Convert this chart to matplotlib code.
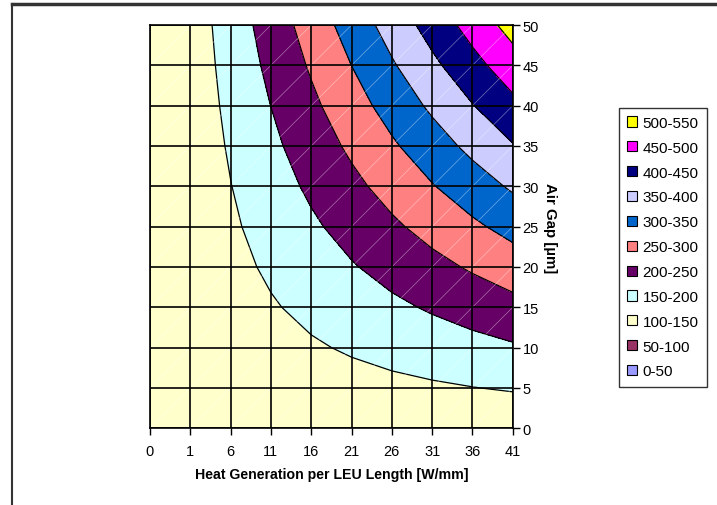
import numpy as np
import matplotlib
matplotlib.use("Agg")
import matplotlib.pyplot as plt
from matplotlib.patches import Patch
from matplotlib.lines import Line2D

plt.rcParams['font.family'] = ['Liberation Sans', 'DejaVu Sans']

# x categories (heat generation per LEU length, W/mm) and y values (air gap, um)
heat = [0, 1, 6, 11, 16, 21, 26, 31, 36, 41]
gap = [0, 5, 10, 15, 20, 25, 30, 35, 40, 45, 50]

# surface values, one row per air gap
temp = [
    [113.4, 113.4, 113.4, 113.4, 113.4, 113.4, 113.4, 113.4, 113.4, 113.4],
    [113.4, 114.4, 119.3, 124.3, 129.2, 134.2, 139.1, 144.0, 149.0, 153.9],
    [113.4, 115.4, 125.3, 135.1, 145.0, 154.9, 164.8, 174.7, 184.6, 194.5],
    [113.4, 116.4, 131.2, 146.0, 160.8, 175.7, 190.5, 205.3, 220.2, 235.0],
    [113.4, 117.4, 137.1, 156.9, 176.7, 196.4, 216.2, 236.0, 255.7, 275.5],
    [113.4, 118.3, 143.1, 167.8, 192.5, 217.2, 241.9, 266.6, 291.3, 316.0],
    [113.4, 119.3, 149.0, 178.6, 208.3, 238.0, 267.6, 297.3, 326.9, 356.6],
    [113.4, 120.3, 154.9, 189.5, 224.1, 258.7, 293.3, 327.9, 362.5, 397.1],
    [113.4, 121.3, 160.8, 200.4, 239.9, 279.5, 319.0, 358.6, 398.1, 437.6],
    [113.4, 122.3, 166.8, 211.3, 255.7, 300.2, 344.7, 389.2, 433.7, 478.2],
    [113.4, 123.3, 172.7, 222.1, 271.6, 321.0, 370.4, 419.8, 469.3, 518.7],
]

levels = [0, 50, 100, 150, 200, 250, 300, 350, 400, 450, 500, 550]
band_colors = ['#9999FF', '#993366', '#FFFFCC', '#CCFFFF', '#660066', '#FF8080',
               '#0066CC', '#CCCCFF', '#000080', '#FF00FF', '#FFFF00']

fig = plt.figure(figsize=(7.17, 5.06), dpi=100)
ax = fig.add_axes([0.2092, 0.1516, 0.7151 - 0.2092, 0.9486 - 0.1516])

xi = np.arange(len(heat))
Z = np.array(temp)
ax.contourf(xi, gap, Z, levels=levels, colors=band_colors)
ax.contour(xi, gap, Z, levels=levels, colors='black', linewidths=0.9)

# faint diagonals of the surface triangles
for k in range(-len(gap), len(heat)):
    ax.plot([k, k + 10], [0, 50], color='white', lw=0.5, alpha=0.45, zorder=2)

for x in xi:
    ax.axvline(x, color='black', lw=1.2, zorder=3)
for y in gap:
    ax.axhline(y, color='black', lw=1.2, zorder=3)

ax.set_xlim(0, len(heat) - 1)
ax.set_ylim(0, 50)
ax.set_xticks(xi)
ax.set_xticklabels([str(h) for h in heat])
ax.set_yticks(gap)
ax.yaxis.tick_right()
ax.yaxis.set_label_position('right')
ax.tick_params(axis='both', direction='out', length=5, width=1, labelsize=10.5, colors='black')
ax.tick_params(axis='x', pad=6)
ax.tick_params(axis='y', pad=2)
for s in ax.spines.values():
    s.set_linewidth(1.2)

ax.set_xlabel('Heat Generation per LEU Length [W/mm]', fontsize=10.2, fontweight='bold', labelpad=7)
ax.set_ylabel('Air Gap [µm]', fontsize=10.8, fontweight='bold', rotation=270, labelpad=13)

handles = [Patch(facecolor=c, edgecolor='black', lw=0.8) for c in band_colors[::-1]]
labels = ['%d-%d' % (levels[i], levels[i + 1]) for i in range(len(band_colors))][::-1]
leg = fig.legend(handles, labels, loc='upper left', bbox_to_anchor=(619 / 717, 1 - 108.5 / 506),
                 fontsize=11, frameon=True, fancybox=False, edgecolor='black',
                 handlelength=0.65, handleheight=0.65, handletextpad=0.35,
                 labelspacing=0.71, borderpad=0.55, borderaxespad=0)
leg.get_frame().set_linewidth(1.0)

# outer chart border (top and left visible)
fig.add_artist(Line2D([12 / 717, 1], [1 - 5 / 506, 1 - 5 / 506], color='#333333', lw=2.5,
                      transform=fig.transFigure))
fig.add_artist(Line2D([12 / 717, 12 / 717], [0, 1 - 5 / 506], color='#333333', lw=1.5,
                      transform=fig.transFigure))

fig.savefig('out.png', dpi=100)
